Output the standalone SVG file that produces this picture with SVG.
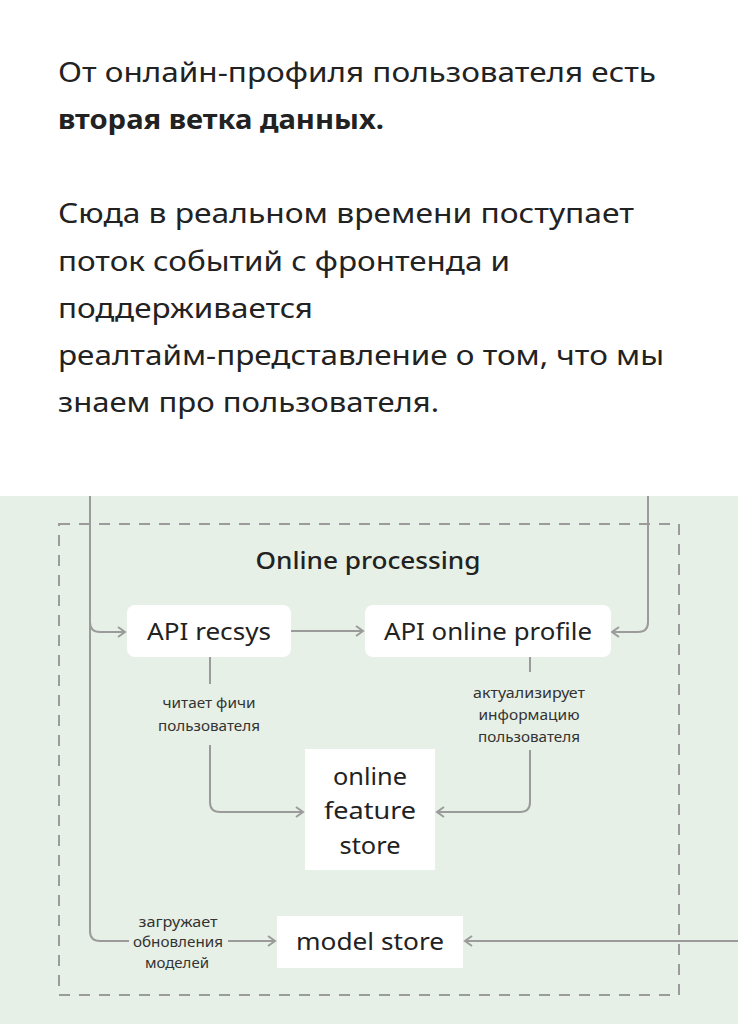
<svg xmlns="http://www.w3.org/2000/svg" width="738" height="1024" viewBox="0 0 738 1024">
<defs>
<style>
.t{font-family:"Noto Sans","Liberation Sans",sans-serif;fill:#222;}
.p{font-size:27px;}
.b{font-weight:bold;}
.n{font-size:24px;text-anchor:middle;}
.s{font-size:14px;text-anchor:middle;fill:#333;}
.c{fill:none;stroke:#9b9b9b;stroke-width:2;}
.box{fill:#fff;}
</style>
<marker id="ah" markerUnits="userSpaceOnUse" markerWidth="12" markerHeight="14" viewBox="-10 -7 12 14" refX="0" refY="0" orient="auto">
<path d="M-7,-5 L0,0 L-7,5" fill="none" stroke="#9b9b9b" stroke-width="2"/>
</marker>
</defs>
<rect x="0" y="0" width="738" height="1024" fill="#fff"/>
<rect x="0" y="496" width="738" height="528" fill="#e7f0e6"/>

<g id="intro">
<text class="t p" x="58" y="82" textLength="598" lengthAdjust="spacingAndGlyphs">От онлайн-профиля пользователя есть</text>
<text class="t p b" x="58" y="129" textLength="326" lengthAdjust="spacingAndGlyphs">вторая ветка данных.</text>
<text class="t p" x="58" y="223" textLength="576" lengthAdjust="spacingAndGlyphs">Сюда в реальном времени поступает</text>
<text class="t p" x="58" y="271" textLength="452" lengthAdjust="spacingAndGlyphs">поток событий с фронтенда и</text>
<text class="t p" x="58" y="318" textLength="255" lengthAdjust="spacingAndGlyphs">поддерживается</text>
<text class="t p" x="58" y="365" textLength="606" lengthAdjust="spacingAndGlyphs">реалтайм-представление о том, что мы</text>
<text class="t p" x="58" y="412" textLength="381" lengthAdjust="spacingAndGlyphs">знаем про пользователя.</text>
</g>

<g id="online-processing">
<rect x="59" y="524" width="620" height="471" fill="none" stroke="#9b9b9b" stroke-width="2" stroke-dasharray="11 9"/>
<text class="t" x="368" y="569" font-size="23" font-weight="500" text-anchor="middle" textLength="225" lengthAdjust="spacingAndGlyphs">Online processing</text>
</g>

<g id="connectors">
<path class="c" d="M90 496 V931 Q90 941 100 941 H129"/>
<path class="c" d="M228 941 H275" marker-end="url(#ah)"/>
<path class="c" d="M90 622 Q90 632 100 632 H125" marker-end="url(#ah)"/>
<path class="c" d="M648 496 V622 Q648 632 638 632 H612" marker-end="url(#ah)"/>
<path class="c" d="M291 631 H363" marker-end="url(#ah)"/>
<path class="c" d="M210 657 V684"/>
<path class="c" d="M210 745 V802 Q210 812 220 812 H303" marker-end="url(#ah)"/>
<path class="c" d="M530 657 V672"/>
<path class="c" d="M530 750 V802 Q530 812 520 812 H437" marker-end="url(#ah)"/>
<path class="c" d="M738 941 H465" marker-end="url(#ah)"/>
<text class="t s" x="209" y="708" textLength="93" lengthAdjust="spacingAndGlyphs">читает фичи</text>
<text class="t s" x="209" y="731" textLength="102" lengthAdjust="spacingAndGlyphs">пользователя</text>
<text class="t s" x="529" y="698" textLength="112" lengthAdjust="spacingAndGlyphs">актуализирует</text>
<text class="t s" x="529" y="720" textLength="101" lengthAdjust="spacingAndGlyphs">информацию</text>
<text class="t s" x="529" y="742" textLength="102" lengthAdjust="spacingAndGlyphs">пользователя</text>
<text class="t s" x="178" y="927" textLength="79" lengthAdjust="spacingAndGlyphs">загружает</text>
<text class="t s" x="178" y="947" textLength="90" lengthAdjust="spacingAndGlyphs">обновления</text>
<text class="t s" x="177" y="968" textLength="64" lengthAdjust="spacingAndGlyphs">моделей</text>
</g>

<g id="api-recsys">
<rect class="box" x="127" y="605" width="164" height="52" rx="8"/>
<text class="t n" x="209" y="640" textLength="124" lengthAdjust="spacingAndGlyphs">API recsys</text>
</g>

<g id="api-online-profile">
<rect class="box" x="365" y="605" width="246" height="52" rx="8"/>
<text class="t n" x="488" y="640" textLength="208" lengthAdjust="spacingAndGlyphs">API online profile</text>
</g>

<g id="online-feature-store">
<rect class="box" x="305" y="749" width="130" height="121"/>
<text class="t n" x="370" y="785" textLength="74" lengthAdjust="spacingAndGlyphs">online</text>
<text class="t n" x="370" y="819" textLength="92" lengthAdjust="spacingAndGlyphs">feature</text>
<text class="t n" x="370" y="854" textLength="61" lengthAdjust="spacingAndGlyphs">store</text>
</g>

<g id="model-store">
<rect class="box" x="277" y="916" width="186" height="52"/>
<text class="t n" x="370" y="950" textLength="148" lengthAdjust="spacingAndGlyphs">model store</text>
</g>
</svg>
